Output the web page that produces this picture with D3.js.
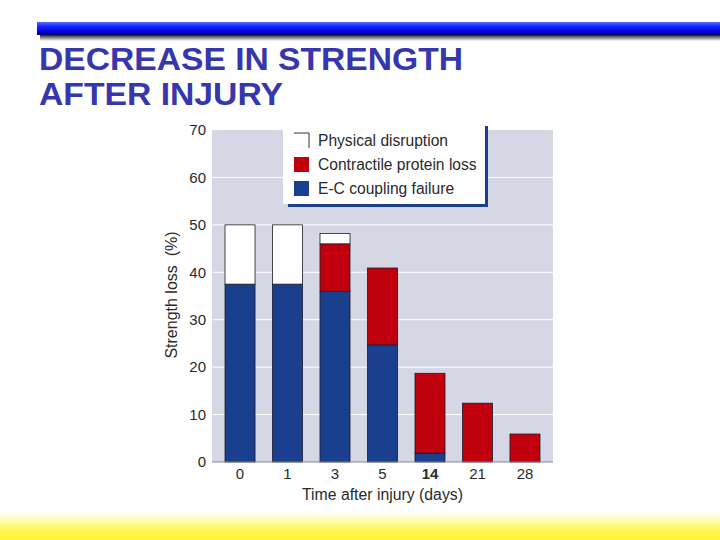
<!DOCTYPE html>
<html>
<head>
<meta charset="utf-8">
<script src="https://cdn.jsdelivr.net/npm/d3@7"></script>
<style>
  body { margin: 0; background: #fff; }
  svg { display: block; }
</style>
</head>
<body>
<div id="canvas"></div>
<script>
"use strict";

/* === Data === */
let days = ["0", "1", "3", "5", "14", "21", "28"];
let ecCoupling = [37.5, 37.5, 36, 24.7, 1.9, 0, 0];
let contractile = [0, 0, 10, 16.2, 16.8, 12.4, 5.9];
let physical = [12.5, 12.5, 2.2, 0, 0, 0, 0];
let yTicks = [0, 10, 20, 30, 40, 50, 60, 70];

let seriesNames = ["E-C coupling failure", "Contractile protein loss", "Physical disruption"];
let seriesColors = ["#1a3f8e", "#c1000e", "#ffffff"];

let svgWidth = 720;
let svgHeight = 540;
let plot = { left: 212, right: 553, top: 130, bottom: 462 };

let rows = days.map((d, i) => ({ day: d, ec: ecCoupling[i], cp: contractile[i], pd: physical[i] }));
let stacked = d3.stack().keys(["ec", "cp", "pd"])(rows);

/* === Scales === */
let xScale = d3.scaleBand()
  .domain(days)
  .range([plot.left, plot.right])
  .paddingInner(0.368)
  .paddingOuter(0.274);

let yScale = d3.scaleLinear()
  .domain([0, 70])
  .range([plot.bottom, plot.top]);

/* === SVG === */
let svg = d3.select("#canvas")
  .append("svg")
  .attr("width", svgWidth)
  .attr("height", svgHeight)
  .style("font-family", "'Liberation Sans', Arial, sans-serif");

let defs = svg.append("defs");

let barGrad = defs.append("linearGradient")
  .attr("id", "barGrad").attr("x1", 0).attr("y1", 0).attr("x2", 0).attr("y2", 1);
barGrad.append("stop").attr("offset", "0%").attr("stop-color", "#5c6cff");
barGrad.append("stop").attr("offset", "30%").attr("stop-color", "#1a2cff");
barGrad.append("stop").attr("offset", "75%").attr("stop-color", "#0000e8");
barGrad.append("stop").attr("offset", "100%").attr("stop-color", "#00004a");

let shadowGrad = defs.append("linearGradient")
  .attr("id", "shadowGrad").attr("x1", 0).attr("y1", 0).attr("x2", 0).attr("y2", 1);
shadowGrad.append("stop").attr("offset", "0%").attr("stop-color", "#000");
shadowGrad.append("stop").attr("offset", "100%").attr("stop-color", "#fff");

let yellowGrad = defs.append("linearGradient")
  .attr("id", "yellowGrad").attr("x1", 0).attr("y1", 0).attr("x2", 0).attr("y2", 1);
yellowGrad.append("stop").attr("offset", "0%").attr("stop-color", "#ffffff");
yellowGrad.append("stop").attr("offset", "70%").attr("stop-color", "#fff64a");
yellowGrad.append("stop").attr("offset", "100%").attr("stop-color", "#fff43a");

/* === Slide decoration === */
svg.append("rect")
  .attr("x", 40).attr("y", 34).attr("width", 680).attr("height", 7)
  .attr("fill", "url(#shadowGrad)");
svg.append("rect")
  .attr("x", 37).attr("y", 22).attr("width", 683).attr("height", 13)
  .attr("fill", "url(#barGrad)");

svg.append("rect")
  .attr("x", 0).attr("y", 512).attr("width", svgWidth).attr("height", 28)
  .attr("fill", "url(#yellowGrad)");

/* === Title === */
svg.append("text")
  .attr("x", 39).attr("y", 70)
  .attr("font-size", "32px").attr("font-weight", "bold")
  .attr("fill", "#3636ae")
  .attr("textLength", 424).attr("lengthAdjust", "spacingAndGlyphs")
  .text("DECREASE IN STRENGTH");

svg.append("text")
  .attr("x", 39).attr("y", 105)
  .attr("font-size", "32px").attr("font-weight", "bold")
  .attr("fill", "#3636ae")
  .attr("textLength", 244).attr("lengthAdjust", "spacingAndGlyphs")
  .text("AFTER INJURY");

/* === Plot background & grid === */
svg.append("rect")
  .attr("x", plot.left).attr("y", plot.top)
  .attr("width", plot.right - plot.left).attr("height", plot.bottom - plot.top)
  .attr("fill", "#d5d7e5");

svg.append("g")
  .selectAll("line")
  .data(yTicks.filter(t => t > 0 && t < 70))
  .enter()
  .append("line")
  .attr("x1", plot.left).attr("x2", plot.right)
  .attr("y1", d => yScale(d)).attr("y2", d => yScale(d))
  .attr("stroke", "#ffffff").attr("stroke-width", 1);

/* === Bars === */
svg.append("g")
  .selectAll("g")
  .data(stacked)
  .enter()
  .append("g")
  .attr("fill", (s, i) => seriesColors[i])
  .selectAll("rect")
  .data(s => s.filter(d => d[1] - d[0] > 0))
  .enter()
  .append("rect")
  .attr("x", d => xScale(d.data.day))
  .attr("y", d => yScale(d[1]))
  .attr("width", xScale.bandwidth())
  .attr("height", d => yScale(d[0]) - yScale(d[1]))
  .attr("stroke", "#1b1b2a")
  .attr("stroke-width", 0.8);

/* baseline */
svg.append("line")
  .attr("x1", plot.left).attr("x2", plot.right)
  .attr("y1", yScale(0)).attr("y2", yScale(0))
  .attr("stroke", "#8a8a96").attr("stroke-width", 1.2);

/* === Axes === */
let yAxis = svg.append("g")
  .attr("transform", `translate(${plot.left}, 0)`)
  .call(d3.axisLeft(yScale).tickValues(yTicks).tickSize(0).tickPadding(6));
yAxis.select(".domain").remove();
yAxis.selectAll("text")
  .attr("font-size", "15px")
  .attr("font-family", "'Liberation Sans', Arial, sans-serif")
  .attr("fill", "#2a2a2a");

let xAxis = svg.append("g")
  .attr("transform", `translate(0, ${plot.bottom})`)
  .call(d3.axisBottom(xScale).tickSize(0).tickPadding(6));
xAxis.select(".domain").remove();
xAxis.selectAll("text")
  .attr("font-size", "15px")
  .attr("font-family", "'Liberation Sans', Arial, sans-serif")
  .attr("font-weight", d => d === "14" ? "bold" : "normal")
  .attr("fill", "#2a2a2a");

/* === Axis labels === */
svg.append("text")
  .attr("x", (plot.left + plot.right) / 2)
  .attr("y", 500)
  .attr("text-anchor", "middle")
  .attr("font-size", "15.8px")
  .attr("fill", "#2a2a2a")
  .text("Time after injury (days)");

svg.append("text")
  .attr("transform", "translate(177, 295) rotate(-90)")
  .attr("text-anchor", "middle")
  .attr("font-size", "16px")
  .attr("fill", "#2a2a2a")
  .attr("xml:space", "preserve")
  .style("white-space", "pre")
  .text("Strength loss  (%)");

/* === Legend === */
let legend = svg.append("g");

legend.append("rect")
  .attr("x", 288).attr("y", 126).attr("width", 200).attr("height", 81)
  .attr("fill", "#1a3f8e");
legend.append("rect")
  .attr("x", 283).attr("y", 122).attr("width", 202).attr("height", 82)
  .attr("fill", "#ffffff");

let legendItems = [2, 1, 0];
legendItems.forEach((si, i) => {
  let y = 133 + i * 24;
  if (si === 2) {
    legend.append("path")
      .attr("d", `M294,${y} H309 V${y + 15}`)
      .attr("fill", "none")
      .attr("stroke", "#333")
      .attr("stroke-width", 1);
  } else {
    legend.append("rect")
      .attr("x", 294).attr("y", y)
      .attr("width", 15).attr("height", 15)
      .attr("fill", seriesColors[si]);
  }
  legend.append("text")
    .attr("x", 318).attr("y", y + 13)
    .attr("font-size", "15.6px")
    .attr("fill", "#2a2a2a")
    .text(seriesNames[si]);
});
</script>
</body>
</html>
